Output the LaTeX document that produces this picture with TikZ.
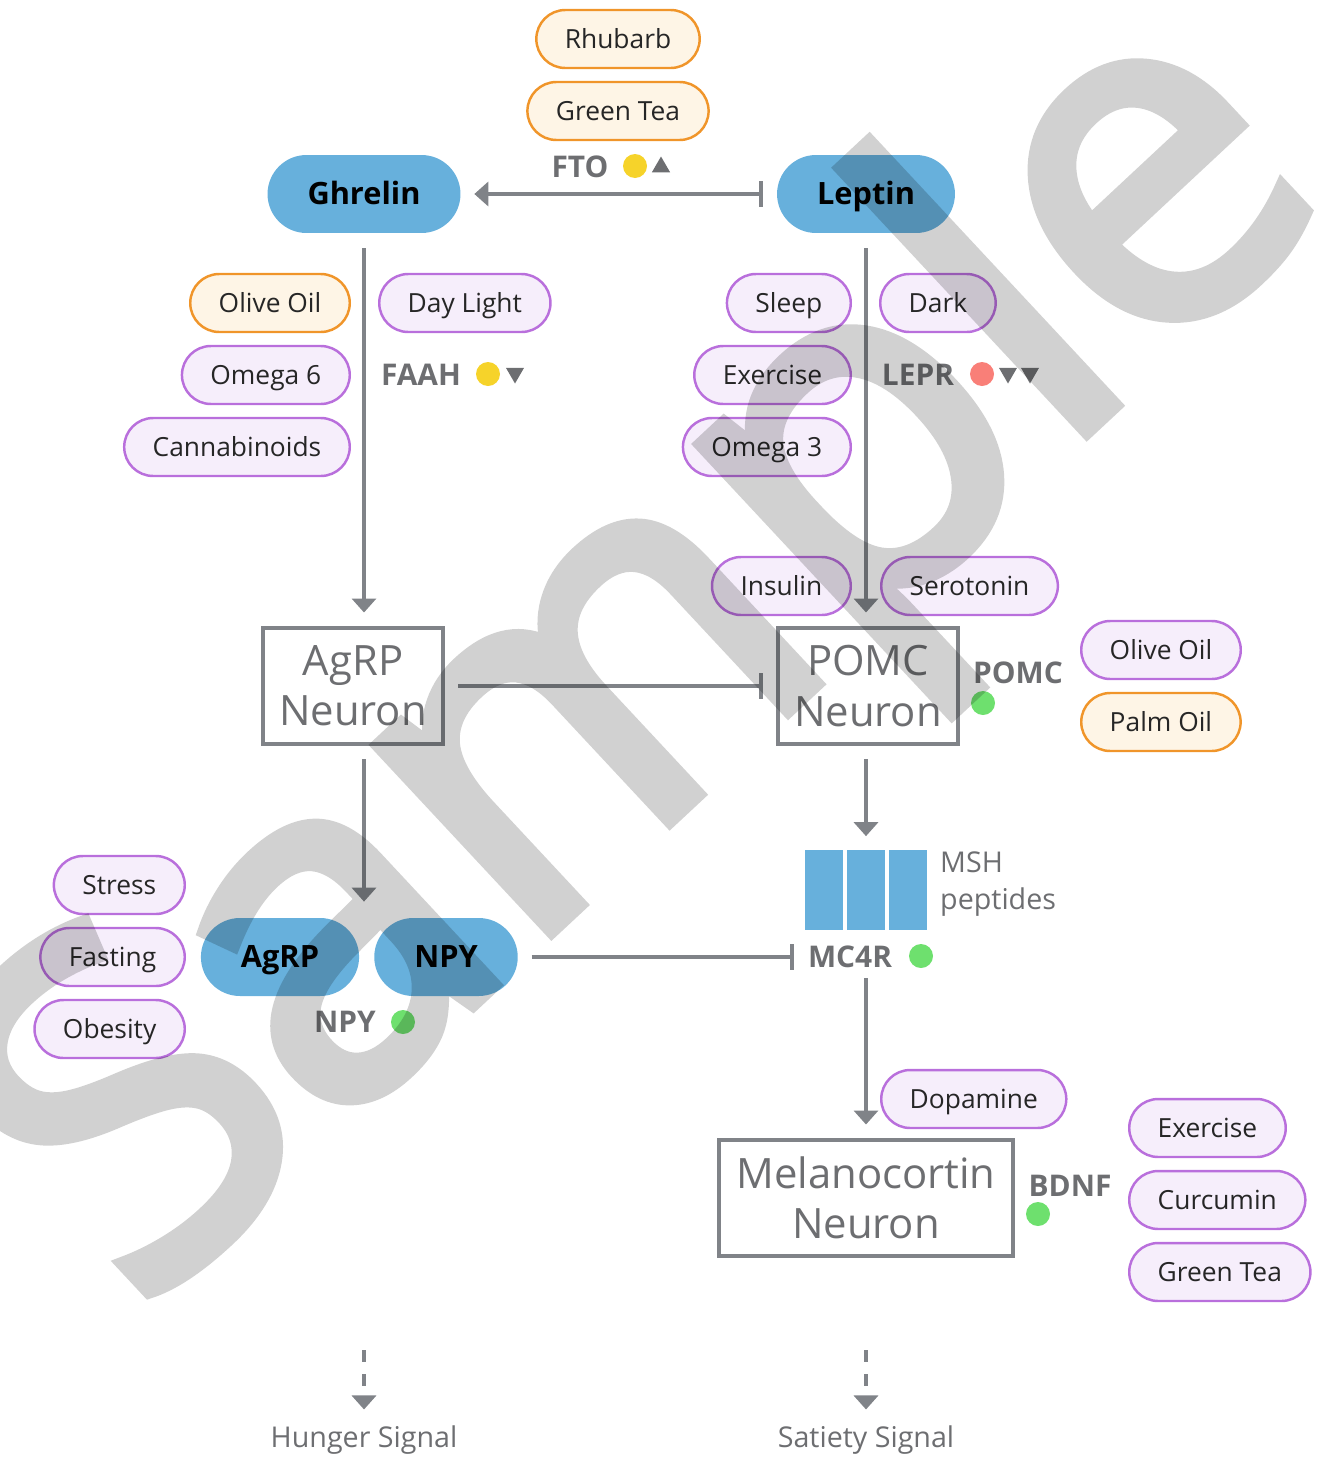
\documentclass[tikz,border=0pt]{standalone}
\usepackage{fontspec}
\setmainfont{Open Sans}
\newfontfamily\wmfont{Open Sans}[FakeBold=3]
\usetikzlibrary{arrows.meta,shapes.geometric}
\definecolor{pillblue}{HTML}{67B0DC}
\definecolor{linegray}{HTML}{808388}
\definecolor{labelgray}{HTML}{6D6E71}
\definecolor{purpleedge}{HTML}{B96FDC}
\definecolor{purplefill}{HTML}{F6EEFB}
\definecolor{orangeedge}{HTML}{F0952A}
\definecolor{orangefill}{HTML}{FEF5E6}
\definecolor{dotyellow}{HTML}{F6D32A}
\definecolor{dotred}{HTML}{F97F78}
\definecolor{dotgreen}{HTML}{6EE06E}
\begin{document}
\begin{tikzpicture}[x=0.02cm,y=-0.02cm]
		\tikzstyle{pill}=[rounded corners=0.58cm, minimum height=1.16cm, inner xsep=0.57cm, text height=12.5pt, text depth=1.8pt, line width=1.4pt, text=black!85, font=\fontsize{15}{18}\selectfont]
		\tikzstyle{food}=[pill, draw=purpleedge, fill=purplefill]
		\tikzstyle{oil}=[pill, draw=orangeedge, fill=orangefill]
		\tikzstyle{hormone}=[rounded corners=0.78cm, minimum height=1.56cm, inner xsep=0.8cm, text height=14.5pt, text depth=2pt, fill=pillblue, font=\bfseries\fontsize{17.5}{21}\selectfont]
		\tikzstyle{neuron}=[draw=linegray, line width=0.08cm, minimum height=2.32cm, minimum width=3.6cm, align=center, text=labelgray, font=\fontsize{23.8}{28.5}\selectfont]
		\tikzstyle{gene}=[text=labelgray, inner sep=0pt, font=\bfseries\fontsize{17}{20}\selectfont]
		\tikzstyle{marker}=[circle, minimum size=0.48cm, inner sep=0pt]
		\tikzstyle{uptri}=[regular polygon, regular polygon sides=3, minimum size=0.42cm, inner sep=0pt, fill=labelgray]
		\tikzstyle{downtri}=[uptri, shape border rotate=180]
		\tikzstyle{peptide}=[fill=pillblue, minimum width=0.76cm, minimum height=1.6cm, inner sep=0pt]
		\tikzstyle{note}=[text=labelgray, font=\fontsize{16.3}{21.5}\selectfont]
		\tikzstyle{link}=[draw=linegray, line width=0.08cm, shorten <=0.27cm, shorten >=0.27cm]
		\tikzstyle{act}=[link, -{Triangle[width=0.48cm,length=0.28cm]}]
		\tikzstyle{inh}=[link, -{Bar[width=0.52cm]}]
		\tikzstyle{signal}=[act, dash pattern=on 0.24cm off 0.24cm]

		\useasboundingbox (0,0) rectangle (1319,1461);

		% top
		\node[oil] (rhubarb) at (618,39) {Rhubarb};
		\node[oil] (greentea1) at (618,111) {Green Tea};
		\node[gene] (fto) at (580,167) {FTO};
		\node[marker, fill=dotyellow] (ftodot) at (635,166) {};
		\node[uptri] (ftotri) at (661,167) {};
		\node[hormone] (ghrelin) at (364,194) {Ghrelin};
		\node[hormone] (leptin) at (866,194) {Leptin};

		% ghrelin side
		\node[oil, anchor=east] (oliveoil1) at (351,303) {Olive Oil};
		\node[food, anchor=west] (daylight) at (378,303) {Day Light};
		\node[food, anchor=east] (omega6) at (351,375) {Omega 6};
		\node[gene] (faah) at (421,375) {FAAH};
		\node[marker, fill=dotyellow] (faahdot) at (488,374) {};
		\node[downtri] (faahtri) at (515,373) {};
		\node[food, anchor=east] (cannabinoids) at (351,447) {Cannabinoids};

		% leptin side
		\node[food, anchor=east] (sleep) at (852,303) {Sleep};
		\node[food, anchor=west] (dark) at (879,303) {Dark};
		\node[food, anchor=east] (exercise1) at (852,375) {Exercise};
		\node[gene] (lepr) at (918,375) {LEPR};
		\node[marker, fill=dotred] (leprdot) at (982,374) {};
		\node[downtri] (leprtri1) at (1008,373) {};
		\node[downtri] (leprtri2) at (1030,373) {};
		\node[food, anchor=east] (omega3) at (852,447) {Omega 3};
		\node[food, anchor=east] (insulin) at (852,586) {Insulin};
		\node[food, anchor=west] (serotonin) at (880,586) {Serotonin};

		% neurons
		\node[neuron] (agrpn) at (353,686) {AgRP\\Neuron};
		\node[neuron] (pomcn) at (868,686) {POMC\\Neuron};
		\node[gene] (pomc) at (1018,673) {POMC};
		\node[marker, fill=dotgreen] (pomcdot) at (983,703) {};
		\node[food, anchor=west] (oliveoil2) at (1080,650) {Olive Oil};
		\node[oil, anchor=west] (palmoil) at (1080,722) {Palm Oil};

		% peptides
		\node[peptide] (msh1) at (824,890) {};
		\node[peptide] (msh2) at (866,890) {};
		\node[peptide] (msh3) at (908,890) {};
		\node[note, anchor=west, align=left] (msh) at (934,884) {MSH\\peptides};
		\node[gene] (mc4r) at (850,957) {MC4R};
		\node[marker, fill=dotgreen] (mc4rdot) at (921,956) {};

		\node[hormone] (agrp) at (280,957) {AgRP};
		\node[hormone] (npy) at (446,957) {NPY};
		\node[food, anchor=east] (stress) at (186,885) {Stress};
		\node[food, anchor=east] (fasting) at (186,957) {Fasting};
		\node[food, anchor=east] (obesity) at (186,1029) {Obesity};
		\node[gene] (npylabel) at (345,1022) {NPY};
		\node[marker, fill=dotgreen] (npydot) at (403,1022) {};

		% melanocortin
		\node[food, anchor=west] (dopamine) at (880,1099) {Dopamine};
		\node[neuron, minimum width=5.88cm] (melan) at (866,1198) {Melanocortin\\Neuron};
		\node[gene] (bdnf) at (1070,1186) {BDNF};
		\node[marker, fill=dotgreen] (bdnfdot) at (1038,1214) {};
		\node[food, anchor=west] (exercise2) at (1128,1128) {Exercise};
		\node[food, anchor=west] (curcumin) at (1128,1200) {Curcumin};
		\node[food, anchor=west] (greentea2) at (1128,1272) {Green Tea};

		% signals
		\node[note] (hunger) at (364,1440) {Hunger Signal};
		\node[note] (satiety) at (866,1440) {Satiety Signal};
		\coordinate (hungtop) at (364,1350);
		\coordinate (sattop) at (866,1350);

		% links
		\draw[link, {Bar[width=0.52cm]}-{Triangle[width=0.48cm,length=0.28cm]}] (leptin) -- (ghrelin);
		\draw[act, shorten <=0.3cm] (ghrelin.south) -- (ghrelin.south |- agrpn.north);
		\draw[act, shorten <=0.3cm] (leptin.south) -- (leptin.south |- pomcn.north);
		\draw[inh] (agrpn) -- (pomcn);
		\draw[act, shorten >=0.32cm] (ghrelin.south |- agrpn.south) -- (ghrelin.south |- agrp.north);
		\draw[act] (leptin.south |- pomcn.south) -- (msh2.north);
		\draw[inh] (npy) -- (mc4r);
		\draw[act, shorten <=0.2cm] (leptin.south |- mc4r.south) -- (leptin.south |- melan.north);
		\draw[signal, shorten <=0pt, shorten >=0.2cm] (hungtop) -- (hunger.north);
		\draw[signal, shorten <=0pt, shorten >=0.2cm] (sattop) -- (satiety.north);

		% watermark
		\begin{scope}[transparency group, opacity=0.18]
			\node[rotate=43, text=black, font=\wmfont\fontsize{270}{270}\selectfont] (sample) at (655,666) {Sample};
		\end{scope}
\end{tikzpicture}
\end{document}
